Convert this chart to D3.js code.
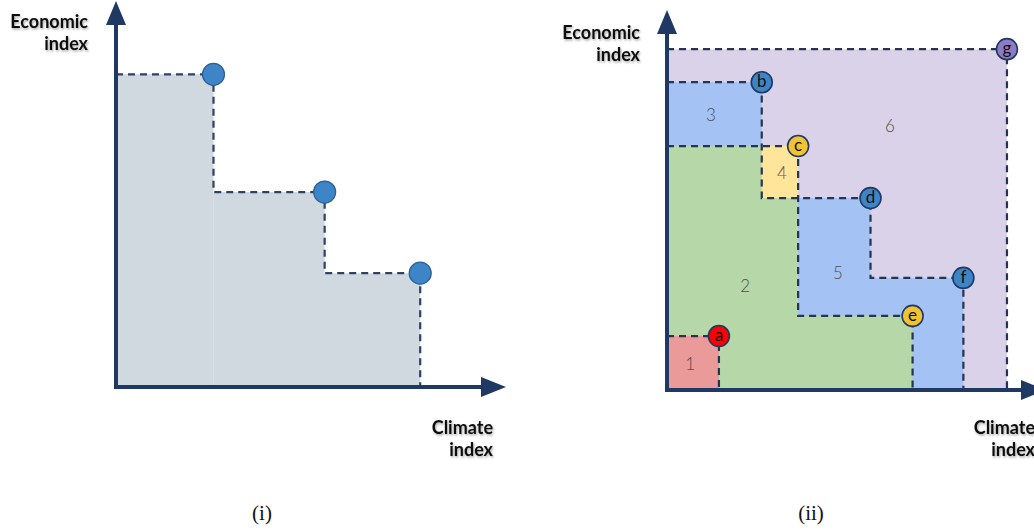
<!doctype html>
<html lang="en">
<head>
  <meta charset="utf-8">
  <script src="https://cdnjs.cloudflare.com/ajax/libs/d3/7.8.5/d3.min.js"></script>
  <style>
    html, body{width:100%; height:100%; margin:0px; padding:0px; background:#fff;}
    svg{display:block;}
    .axisLabel{font-family:Lato, sans-serif; font-weight:bold; font-size:18px; fill:#111;}
    .regionLabel{font-family:Lato, sans-serif; font-weight:300; font-size:17px;}
    .pointLabel{font-family:Lato, sans-serif; font-size:17px; fill:#111;}
    .caption{font-family:"Liberation Serif", "DejaVu Serif", serif; font-size:21px; fill:#111;}
  </style>
</head>
<body>
<div id="view"></div>

<script>
// panel (i): three points of one front
var leftX = [2.5, 5.35, 7.8];
var leftY = [8.1, 5.05, 2.95];

// panel (ii): labelled points
var pointIds = ['a', 'b', 'c', 'd', 'e', 'f', 'g'];
var pointX   = [1.37, 2.5, 3.46, 5.37, 6.48, 7.82, 8.97];
var pointY   = [1.42, 8.1, 6.42, 5.05, 1.95, 2.95, 8.97];
var pointKind = ['red', 'blue', 'yellow', 'blue', 'yellow', 'blue', 'purple'];

// fronts (outer to inner)
var fronts = [['g'], ['b', 'd', 'f'], ['c', 'e'], ['a']];
var frontKind = ['purple', 'blue', 'green', 'red'];
// the one extra cell (region 4): x from b to c, y from d to c
var cellX = ['b', 'c'];
var cellY = ['d', 'c'];

// numbered regions
var regionNames = ['1', '2', '3', '4', '5', '6'];
var regionX = [0.61, 2.06, 1.16, 3.03, 4.51, 5.88];
var regionY = [0.68, 2.74, 7.24, 5.71, 3.08, 6.95];

var axisColor = '#1f3864';
var dashColor = '#243452';
var fillColor = d3.scaleOrdinal()
  .domain(['red', 'green', 'blue', 'yellow', 'purple'])
  .range(['#e99a99', '#b6d7a8', '#a4c2f4', '#ffe599', '#d9d2e9']);
var dotColor = d3.scaleOrdinal()
  .domain(['red', 'blue', 'yellow', 'purple'])
  .range(['#ff0000', '#3d85c6', '#f1c232', '#8e7cc3']);

var svg = d3.select('#view').append('svg')
  .attr('width', 1034)
  .attr('height', 532);

var defs = svg.append('defs');
defs.append('filter').attr('id', 'shadow')
  .attr('x', '-10%').attr('y', '-30%').attr('width', '130%').attr('height', '170%')
  .append('feDropShadow')
    .attr('dx', 1).attr('dy', 1.5).attr('stdDeviation', 1.2)
    .attr('flood-color', '#000').attr('flood-opacity', 0.35);

function arrowHead(g, x, y, dir)
{
  // dir: 'up' or 'right', tip at (x,y)
  var pts = dir == 'up'
    ? [[x, y], [x - 10, y + 24], [x + 10, y + 24]]
    : [[x, y], [x - 25, y - 10], [x - 25, y + 10]];
  g.append('path').attr('d', 'M' + pts.join('L') + 'Z').attr('fill', axisColor);
}

function drawAxes(g, x, y)
{
  var x0 = x.range()[0], x1 = x.range()[1];
  var y0 = y.range()[0], y1 = y.range()[1];
  g.append('line').attr('x1', x0).attr('y1', y0 + 2).attr('x2', x0).attr('y2', y1 + 20)
    .attr('stroke', axisColor).attr('stroke-width', 4);
  g.append('line').attr('x1', x0 - 2).attr('y1', y0).attr('x2', x1 - 20).attr('y2', y0)
    .attr('stroke', axisColor).attr('stroke-width', 4);
  arrowHead(g, x0, y1, 'up');
  arrowHead(g, x1, y0, 'right');
}

function stairPath(pts, x, y, closed)
{
  // pts sorted by x, y decreasing
  var p = d3.path();
  p.moveTo(x(0), y(pts[0][1]));
  pts.forEach(function(d, i){
    p.lineTo(x(d[0]), y(d[1]));
    var next = i < pts.length - 1 ? pts[i + 1][1] : 0;
    p.lineTo(x(d[0]), y(next));
  });
  if(closed){ p.lineTo(x(0), y(0)); p.closePath(); }
  return p.toString();
}

function axisLabels(g, xr, yTop, x1, yBottom)
{
  var t = g.append('text').attr('class', 'axisLabel').attr('filter', 'url(#shadow)')
    .attr('text-anchor', 'end');
  t.append('tspan').attr('x', xr).attr('y', yTop).text('Economic');
  t.append('tspan').attr('x', xr).attr('y', yTop + 22).text('index');
  var c = g.append('text').attr('class', 'axisLabel').attr('filter', 'url(#shadow)')
    .attr('text-anchor', 'end');
  c.append('tspan').attr('x', x1).attr('y', yBottom).text('Climate');
  c.append('tspan').attr('x', x1).attr('y', yBottom + 22).text('index');
}

/* ---------- panel (i) ---------- */
var xL = d3.scaleLinear().domain([0, 10]).range([116, 506]);
var yL = d3.scaleLinear().domain([0, 10]).range([387, 1]);
var gL = svg.append('g');
var leftPts = leftX.map(function(v, i){ return [v, leftY[i]]; });

gL.append('path').attr('d', stairPath(leftPts, xL, yL, true))
  .attr('fill', '#d0d9df');
// faint seam of the first block, as in the source drawing
gL.append('line')
  .attr('x1', xL(leftPts[0][0])).attr('x2', xL(leftPts[0][0]))
  .attr('y1', yL(leftPts[1][1])).attr('y2', yL(0))
  .attr('stroke', '#d8e0e4').attr('stroke-width', 1);

gL.append('path').attr('d', stairPath(leftPts, xL, yL, false))
  .attr('fill', 'none').attr('stroke', '#2e4266').attr('stroke-width', 2.2)
  .attr('stroke-dasharray', '7,5');

drawAxes(gL, xL, yL);

gL.selectAll('circle').data(leftPts).enter().append('circle')
  .attr('cx', function(d){ return xL(d[0]); })
  .attr('cy', function(d){ return yL(d[1]); })
  .attr('r', 11)
  .attr('fill', '#3d85c6').attr('stroke', '#2c5f93').attr('stroke-width', 1.2);

axisLabels(gL, 88, 28, 493, 434);
gL.append('text').attr('class', 'caption').attr('x', 262).attr('y', 520)
  .attr('text-anchor', 'middle').text('(i)');

/* ---------- panel (ii) ---------- */
var xR = d3.scaleLinear().domain([0, 10]).range([667, 1046]);
var yR = d3.scaleLinear().domain([0, 10]).range([390, 10]);
var gR = svg.append('g');

var byId = {};
pointIds.forEach(function(id, i){ byId[id] = [pointX[i], pointY[i]]; });

var frontPts = fronts.map(function(f){ return f.map(function(id){ return byId[id]; }); });

// colored regions: purple, blue, green fronts, then the yellow cell, then red
var fillG = gR.append('g');
fillG.selectAll('path.region').data(frontPts.slice(0, 3)).enter().append('path')
  .attr('class', 'region')
  .attr('d', function(d){ return stairPath(d, xR, yR, true); })
  .attr('fill', function(d, i){ return fillColor(frontKind[i]); });

fillG.append('rect')
  .attr('x', xR(byId[cellX[0]][0]))
  .attr('y', yR(byId[cellY[1]][1]))
  .attr('width', xR(byId[cellX[1]][0]) - xR(byId[cellX[0]][0]))
  .attr('height', yR(byId[cellY[0]][1]) - yR(byId[cellY[1]][1]))
  .attr('fill', fillColor('yellow'));

fillG.append('path')
  .attr('d', stairPath(frontPts[3], xR, yR, true))
  .attr('fill', fillColor(frontKind[3]));

// region numbers
gR.selectAll('text.regionLabel').data(regionNames).enter().append('text')
  .attr('class', 'regionLabel')
  .attr('x', function(d, i){ return xR(regionX[i]); })
  .attr('y', function(d, i){ return yR(regionY[i]); })
  .attr('dy', '0.35em')
  .attr('text-anchor', 'middle')
  .attr('fill', function(d){ return d == '4' ? '#7b4a6e' : '#4f4f4f'; })
  .text(function(d){ return d; });

// dashed fronts
gR.selectAll('path.front').data(frontPts).enter().append('path')
  .attr('class', 'front')
  .attr('d', function(d){ return stairPath(d, xR, yR, false); })
  .attr('fill', 'none').attr('stroke', dashColor).attr('stroke-width', 2.2)
  .attr('stroke-dasharray', '7,5');

drawAxes(gR, xR, yR);

var dots = gR.selectAll('g.dot').data(pointIds).enter().append('g')
  .attr('class', 'dot')
  .attr('transform', function(d, i){ return 'translate(' + xR(pointX[i]) + ',' + yR(pointY[i]) + ')'; });
dots.append('circle').attr('r', 10.5)
  .attr('fill', function(d, i){ return dotColor(pointKind[i]); })
  .attr('stroke', axisColor).attr('stroke-width', 1.6);
dots.append('text').attr('class', 'pointLabel')
  .attr('text-anchor', 'middle').attr('dy', '0.3em')
  .text(function(d){ return d; });

axisLabels(gR, 640, 39, 1035, 434);
gR.append('text').attr('class', 'caption').attr('x', 811).attr('y', 520)
  .attr('text-anchor', 'middle').text('(ii)');
</script>
</body>
</html>
